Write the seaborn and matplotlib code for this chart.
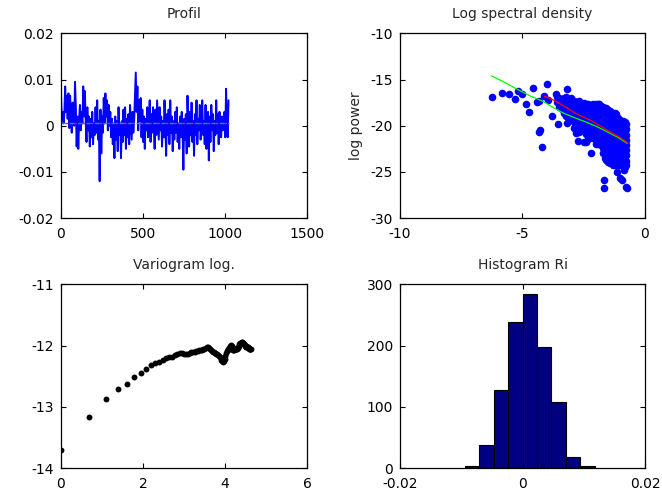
import numpy as np
import pandas as pd
import matplotlib
matplotlib.use("Agg")
import matplotlib.pyplot as plt
from matplotlib.ticker import FuncFormatter
import seaborn as sns

# ---------------- data ----------------
# Profile residuals (x 1e-3), one value every 5 samples
profile_step = 5
profile_vals = [
    6.5, 1.0, 3.0, 0.5, 2.5, 8.5, 3.0, 6.5, 1.5, 7.0,
    -0.5, 6.5, 2.0, -1.5, 5.0, 3.5, 0.0, 9.5, 4.0, -4.5,
    2.0, -5.0, 1.5, 4.5, -1.0, 3.0, 0.5, 8.5, 2.0, 7.5,
    1.0, -3.5, 4.0, -1.0, 2.0, -4.5, 1.5, -2.5, 3.0, -4.0,
    0.5, -2.0, 4.0, -1.5, 5.5, -3.0, 1.0, -12.0, 3.5, -6.0,
    2.0, -1.5, 6.0, 0.5, 7.0, 2.0, 5.5, -1.0, 4.5, 0.0,
    3.0, -2.5, 1.5, -4.0, 0.5, -7.0, 2.0, -3.0, 1.0, -5.5,
    4.0, -2.0, 0.5, -7.0, 1.0, -3.5, 3.5, -2.0, 4.0, -5.0,
    1.5, -2.5, 2.5, -4.0, 4.5, 0.5, -3.0, 3.0, -1.5, 1.0,
    6.0, 11.5, 3.0, 8.5, -1.0, 5.5, 1.0, 6.0, -2.5, 3.5,
    -3.5, 2.0, -5.0, 1.5, -1.0, 4.0, -2.5, 1.0, 5.5, -3.5,
    2.5, -1.5, 4.0, 0.0, -5.0, 3.5, -2.0, 5.5, 1.0, -3.0,
    4.0, -1.0, 2.0, -4.5, 1.0, -2.5, 5.5, 0.5, -6.5, 2.5,
    -2.0, 3.5, -4.0, 5.5, -1.5, 2.0, -5.5, 1.0, -3.0, 3.0,
    -1.5, 4.0, -3.5, 0.5, -5.0, 2.0, -2.5, 3.0, -1.0, -9.5,
    1.5, -3.0, 2.5, -6.0, 6.5, 0.0, -4.5, 3.0, -2.0, 5.0,
    -3.5, 1.0, -6.5, 2.5, -2.0, 5.5, -4.0, 1.5, -1.0, 4.5,
    -3.0, 0.5, 5.5, -2.0, 1.0, -4.0, 4.5, -5.0, 0.5, 3.0,
    -7.5, 2.0, -3.5, 4.5, -1.0, 2.5, -5.5, 1.0, -2.0, 5.5,
    -1.5, 2.5, -4.0, 3.0, 0.0, -2.5, 2.0, -1.0, 1.5, 3.0,
    -2.5, 8.0, 1.0, -2.5, 5.5,
]
profile_mean = 0.0007
profile_len = 1024

# Log spectral density: isolated periodogram points
spec_out_x = [-6.24, -5.81, -5.54, -5.31, -5.17, -5.00, -4.83, -4.72, -4.58, -4.42,
              -4.31, -4.29, -4.18, -4.01, -4.10, -3.95, -3.77, -3.62, -3.54, -3.16,
              -2.79, -2.72, -2.49, -2.38, -2.18, -1.86, -1.62, -1.56, -1.67, -1.67,
              -1.18, -1.12, -1.02, -0.94, -0.86, -0.76, -0.71, -4.30, -3.17, -1.95]
spec_out_y = [-16.9, -16.5, -16.6, -17.1, -16.2, -16.6, -17.7, -18.5, -15.9, -17.4,
              -17.3, -20.5, -22.3, -15.5, -16.8, -17.2, -19.0, -16.6, -19.8, -16.0,
              -20.8, -21.6, -21.75, -21.8, -23.0, -17.7, -23.5, -23.4, -25.9, -26.7,
              -18.7, -25.0, -25.7, -25.9, -24.8, -26.6, -26.7, -20.7, -19.7, -21.5]

# Log spectral density: dense high-frequency cloud, column by column
blob_x = [-3.6, -3.5, -3.4, -3.3, -3.2, -3.1, -3.0, -2.9, -2.8, -2.7, -2.6, -2.5,
          -2.4, -2.3, -2.2, -2.1, -2.0, -1.9, -1.8, -1.7, -1.6, -1.5, -1.4, -1.3,
          -1.2, -1.1, -1.0, -0.9, -0.8, -0.75]
blob_y = [
    [-16.9, -17.4],
    [-17.0, -17.5, -18.0],
    [-17.1, -17.6, -18.2],
    [-17.0, -17.5, -18.0, -18.6],
    [-16.9, -17.4, -17.9, -18.4, -19.0],
    [-17.2, -17.7, -18.2, -18.8, -19.4],
    [-17.0, -17.5, -18.0, -18.5, -19.1],
    [-17.3, -17.8, -18.3, -18.9, -19.6, -20.2],
    [-17.4, -17.9, -18.4, -19.0, -19.5, -20.0],
    [-17.3, -17.8, -18.3, -18.8, -19.4, -20.0, -20.7],
    [-17.6, -18.1, -18.6, -19.2, -19.7, -20.3],
    [-17.5, -18.0, -18.5, -19.0, -19.6, -20.1, -20.6],
    [-17.7, -18.2, -18.7, -19.2, -19.8, -20.3, -20.9],
    [-17.6, -18.1, -18.6, -19.1, -19.7, -20.2, -20.8, -21.4],
    [-17.8, -18.3, -18.8, -19.4, -19.9, -20.5, -21.0],
    [-17.6, -18.1, -18.7, -19.2, -19.7, -20.3, -20.8, -21.3],
    [-17.7, -18.2, -18.7, -19.2, -19.8, -20.4, -20.9, -21.5, -22.0],
    [-17.6, -18.2, -18.7, -19.3, -19.8, -20.4, -20.9, -21.4, -22.0],
    [-17.9, -18.4, -18.9, -19.5, -20.0, -20.6, -21.1, -21.6, -22.1],
    [-18.0, -18.5, -19.0, -19.6, -20.1, -20.7, -21.2, -21.8, -22.4, -23.0],
    [-18.1, -18.6, -19.2, -19.7, -20.2, -20.8, -21.3, -21.9, -22.5, -23.2, -23.7],
    [-18.3, -18.9, -19.4, -20.0, -20.5, -21.0, -21.6, -22.1, -22.7, -23.3, -23.9],
    [-18.4, -18.9, -19.5, -20.0, -20.6, -21.1, -21.7, -22.2, -22.8, -23.4, -24.0],
    [-18.6, -19.1, -19.7, -20.2, -20.8, -21.3, -21.9, -22.4, -23.0, -23.6, -24.3],
    [-18.6, -19.2, -19.8, -20.3, -20.9, -21.4, -22.0, -22.6, -23.1, -23.7, -24.3],
    [-19.2, -19.7, -20.3, -20.8, -21.4, -21.9, -22.5, -23.0, -23.6, -24.2],
    [-19.4, -19.9, -20.5, -21.0, -21.6, -22.1, -22.7, -23.2, -23.8, -24.3],
    [-19.5, -20.0, -20.6, -21.1, -21.7, -22.2, -22.8, -23.3, -23.9, -24.4],
    [-19.6, -20.1, -20.7, -21.2, -21.8, -22.3, -22.9, -23.4, -24.0, -24.5],
    [-19.8, -20.4, -21.0, -21.5, -22.1, -22.6, -23.2, -23.8, -24.3],
]

# Smoothed spectrum (green) and regression line (red)
fit_x = [-6.27, -5.80, -5.21, -4.70, -4.12, -3.70, -3.31, -2.80, -2.40, -1.95, -1.50, -1.10, -0.72]
fit_y = [-14.6, -15.2, -16.05, -16.75, -17.4, -18.1, -18.65, -19.2, -19.6, -20.1, -20.7, -21.25, -21.9]
trend_x = [-4.10, -3.70, -3.31, -2.90, -2.60, -2.22, -1.80, -1.40, -1.05, -0.72]
trend_y = [-16.8, -17.25, -17.85, -18.55, -18.95, -19.4, -20.05, -20.7, -21.2, -21.8]

# Log variogram, lags 1..102
vario_lag = list(range(1, 103))
vario_val = [
    -13.70, -13.16, -12.875, -12.71, -12.62, -12.52, -12.44, -12.39, -12.32, -12.29,
    -12.26, -12.23, -12.21, -12.19, -12.18, -12.16, -12.14, -12.12, -12.12, -12.13,
    -12.14, -12.13, -12.12, -12.11, -12.10, -12.10, -12.09, -12.09, -12.08, -12.07,
    -12.07, -12.06, -12.05, -12.04, -12.03, -12.03, -12.04, -12.06, -12.08, -12.09,
    -12.10, -12.11, -12.12, -12.13, -12.14, -12.15, -12.17, -12.19, -12.21, -12.23,
    -12.25, -12.26, -12.25, -12.22, -12.17, -12.12, -12.09, -12.07, -12.05, -12.04,
    -12.02, -12.00, -11.99, -12.01, -12.04, -12.07, -12.08, -12.07, -12.06, -12.05,
    -12.05, -12.06, -12.05, -12.04, -12.02, -12.00, -11.98, -11.97, -11.96, -11.95,
    -11.95, -11.94, -11.94, -11.95, -11.96, -11.97, -11.98, -11.99, -12.00, -12.01,
    -12.02, -12.03, -12.03, -12.02, -12.02, -12.03, -12.04, -12.05, -12.05, -12.05,
    -12.06, -12.06,
]

# Histogram of residuals
hist_edges = [-0.00942, -0.00707, -0.00472, -0.00236, -0.00001, 0.00234,
              0.00469, 0.00704, 0.00939, 0.01174]
hist_counts = [4, 37, 127, 238, 284, 198, 108, 19, 4]

# ---------------- style ----------------
sns.set_theme(style="white", rc={
    "xtick.direction": "in", "ytick.direction": "in",
    "xtick.top": True, "ytick.right": True,
    "xtick.bottom": True, "ytick.left": True,
    "xtick.major.size": 3.5, "ytick.major.size": 3.5,
    "xtick.major.width": 0.8, "ytick.major.width": 0.8,
    "axes.edgecolor": "black", "axes.linewidth": 0.9,
    "axes.unicode_minus": False,
    "xtick.color": "black", "ytick.color": "black",
    "xtick.major.pad": 6, "ytick.major.pad": 5,
})
plt.rcParams["font.family"] = ["DejaVu Sans"]
plt.rcParams["font.size"] = 10

fig = plt.figure(figsize=(6.62, 4.97), dpi=100)
ax1 = fig.add_axes([0.092, 0.561, 0.372, 0.372])
ax2 = fig.add_axes([0.604, 0.561, 0.370, 0.372])
ax3 = fig.add_axes([0.092, 0.058, 0.372, 0.370])
ax4 = fig.add_axes([0.604, 0.058, 0.371, 0.370])

fmt = FuncFormatter(lambda v, p: "%g" % round(v, 6))

def finish(ax, title, xlim, xticks, ylim, yticks):
    ax.set_xlim(*xlim)
    ax.set_ylim(*ylim)
    ax.set_xticks(xticks)
    ax.set_yticks(yticks)
    ax.xaxis.set_major_formatter(fmt)
    ax.yaxis.set_major_formatter(fmt)
    ax.tick_params(labelsize=10, colors="black")
    ax.set_title(title, fontsize=10, pad=11)
    ax.set_xlabel("")
    for s in ax.spines.values():
        s.set_visible(True)
        s.set_color("black")

# Profil
prof = pd.DataFrame({
    "x": np.arange(len(profile_vals)) * profile_step + 1,
    "y": np.array(profile_vals) * 1e-3,
})
sns.lineplot(data=prof, x="x", y="y", ax=ax1, color="#0000ff", lw=1.4,
             estimator=None, sort=False)
mean_df = pd.DataFrame({"x": [1, profile_len], "y": [profile_mean, profile_mean]})
sns.lineplot(data=mean_df, x="x", y="y", ax=ax1, color="#00b050", lw=1.0,
             linestyle=(0, (3, 3)))
sns.lineplot(data=mean_df, x="x", y="y", ax=ax1, color="#d0208a", lw=1.0,
             linestyle=(3, (2, 4)))
ax1.set_ylabel("")
finish(ax1, "Profil", (0, 1500), [0, 500, 1000, 1500], (-0.02, 0.02),
       [-0.02, -0.01, 0, 0.01, 0.02])

# Log spectral density
bx, by = [], []
for xv, ys in zip(blob_x, blob_y):
    bx += [xv] * len(ys)
    by += ys
spec = pd.DataFrame({"x": spec_out_x + bx, "y": spec_out_y + by})
sns.scatterplot(data=spec, x="x", y="y", ax=ax2, color="#0000ff", s=30,
                linewidth=0, marker="o")
sns.lineplot(x=fit_x, y=fit_y, ax=ax2, color="#00ff00", lw=0.9)
sns.lineplot(x=trend_x, y=trend_y, ax=ax2, color="#ff0000", lw=0.9)
finish(ax2, "Log spectral density", (-10, 0), [-10, -5, 0], (-30, -10),
       [-30, -25, -20, -15, -10])
ax2.set_ylabel("log power", fontsize=10, labelpad=5)

# Variogram log.
vario = pd.DataFrame({"x": np.log(vario_lag), "y": vario_val})
sns.scatterplot(data=vario, x="x", y="y", ax=ax3, color="black", s=18,
                linewidth=0, marker="o")
ax3.set_ylabel("")
finish(ax3, "Variogram log.", (0, 6), [0, 2, 4, 6], (-14, -11),
       [-14, -13, -12, -11])

# Histogram Ri
centers = [(a + b) / 2 for a, b in zip(hist_edges[:-1], hist_edges[1:])]
sns.histplot(x=centers, weights=hist_counts, bins=hist_edges, ax=ax4,
             color="#000080", edgecolor="black", linewidth=0.8, alpha=1.0)
ax4.set_ylabel("")
finish(ax4, "Histogram Ri", (-0.02, 0.02), [-0.02, 0, 0.02], (0, 300),
       [0, 100, 200, 300])

fig.savefig("out.png", dpi=100)
